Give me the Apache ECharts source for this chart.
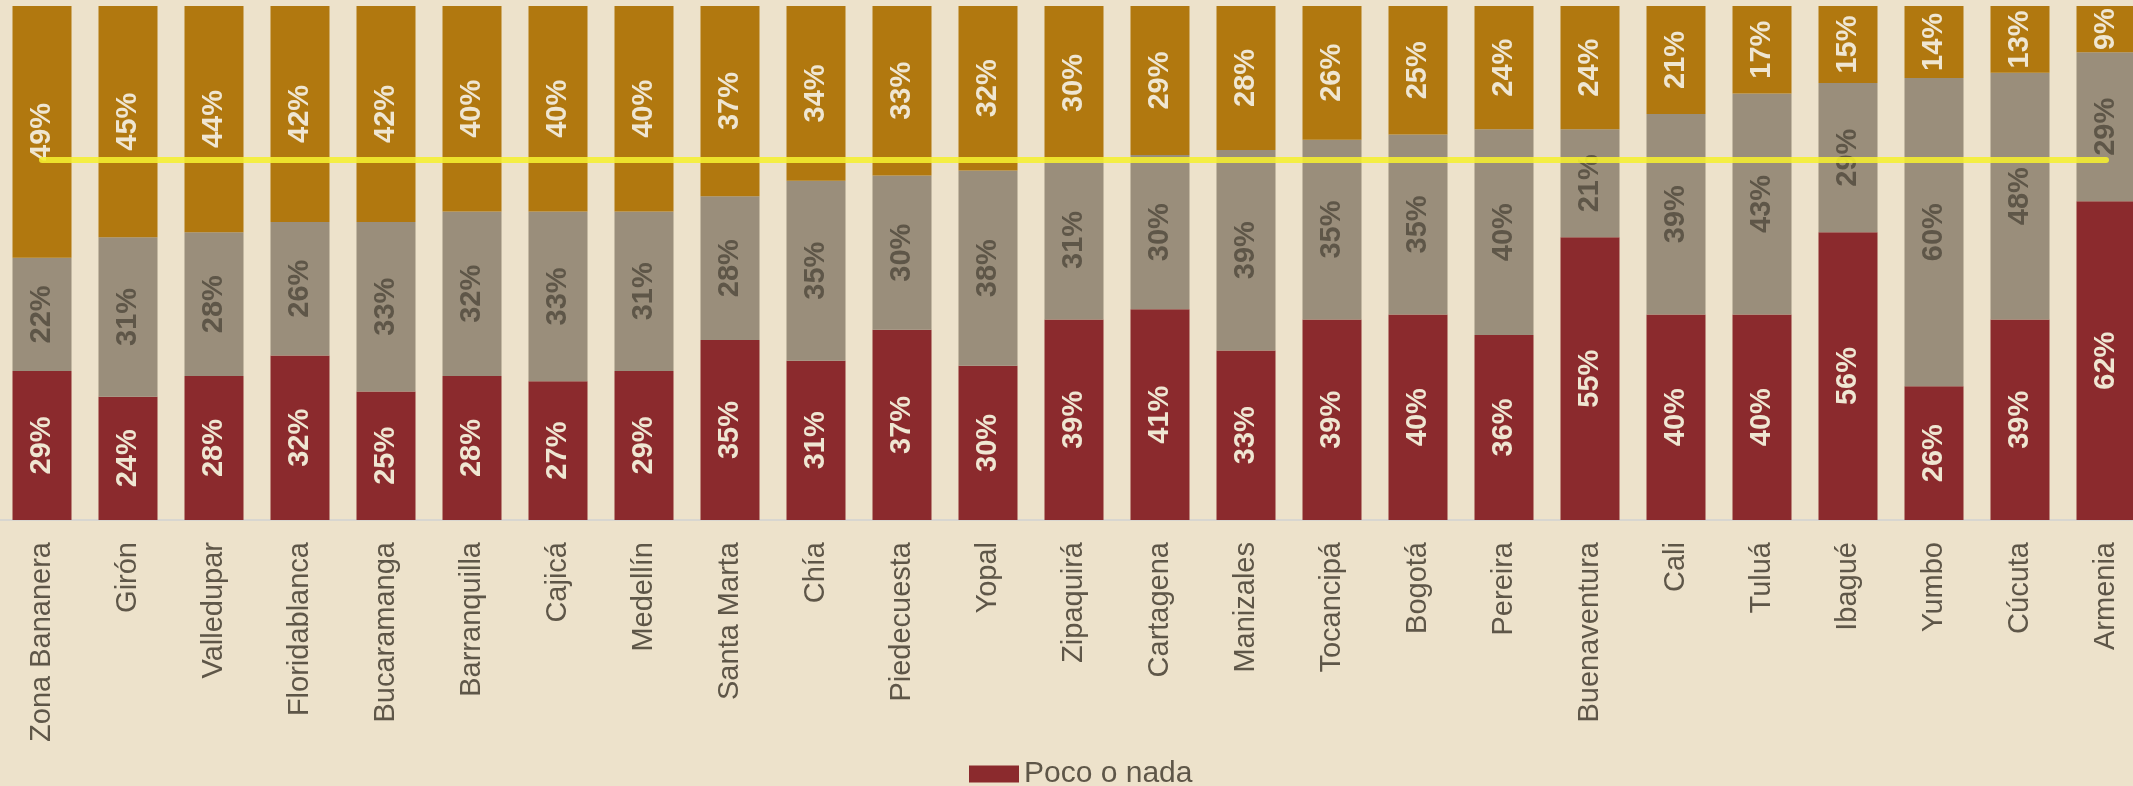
<!DOCTYPE html>
<html>
<head>
<meta charset="utf-8">
<script src="https://cdn.jsdelivr.net/npm/echarts@6/dist/echarts.min.js"></script>
<style>
html,body{margin:0;padding:0;background:#EDE2CB;overflow:hidden;width:2133px;height:786px;}
#chart{width:2150px;height:786px;margin-left:-1px;}
</style>
</head>
<body>
<div id="chart"></div>
<script>
const categories = ["Zona Bananera","Girón","Valledupar","Floridablanca","Bucaramanga","Barranquilla","Cajicá","Medellín","Santa Marta","Chía","Piedecuesta","Yopal","Zipaquirá","Cartagena","Manizales","Tocancipá","Bogotá","Pereira","Buenaventura","Cali","Tuluá","Ibagué","Yumbo","Cúcuta","Armenia"];
const pocoONada = [29,24,28,32,25,28,27,29,35,31,37,30,39,41,33,39,40,36,55,40,40,56,26,39,62];
const medio     = [22,31,28,26,33,32,33,31,28,35,30,38,31,30,39,35,35,40,21,39,43,29,60,48,29];
const mucho     = [49,45,44,42,42,40,40,40,37,34,33,32,30,29,28,26,25,24,24,21,17,15,14,13,9];
const referenceLevel = 70;

const chart = echarts.init(document.getElementById('chart'), null, {renderer:'canvas'});
const lightLabel = {show:true, position:'inside', rotate:90, formatter:'{c}%', color:'#EFE6D2', fontSize:29, fontWeight:'bold', fontFamily:'Liberation Sans, Arial, sans-serif'};
const darkLabel = Object.assign({}, lightLabel, {color:'#5E5648'});

chart.setOption({
  backgroundColor:'#EDE2CB',
  animation:false,
  grid:{left:0, right:0, top:6, bottom:266, containLabel:false},
  legend:{
    data:[{name:'Poco o nada', icon:'rect'}],
    left:965, top:754,
    itemWidth:50, itemHeight:17, itemGap:4,
    textStyle:{color:'#5E5648', fontSize:30, fontFamily:'Liberation Sans, Arial, sans-serif'}
  },
  xAxis:{
    type:'category', data:categories,
    axisTick:{show:false},
    axisLine:{show:true, lineStyle:{color:'#D8D6D0', width:2}},
    axisLabel:{interval:0, rotate:90, margin:22, color:'#5E5648', fontSize:29, fontFamily:'Liberation Sans, Arial, sans-serif'}
  },
  yAxis:{type:'value', min:0, max:100, show:false, splitLine:{show:false}},
  series:[
    {name:'Poco o nada', type:'bar', stack:'t', data:pocoONada, barWidth:59,
     itemStyle:{color:'#8B2A2D'}, label:lightLabel},
    {name:'Algo', type:'bar', stack:'t', data:medio, barWidth:59,
     itemStyle:{color:'#9A8E7B'}, label:darkLabel},
    {name:'Mucho', type:'bar', stack:'t', data:mucho, barWidth:59,
     itemStyle:{color:'#B1780F'}, label:lightLabel,
     markLine:{
       silent:true, symbol:['none','none'], z:10,
       label:{show:false},
       lineStyle:{color:'#F5EF30', width:6, type:'solid', opacity:0.88, cap:'round'},
       data:[[{coord:[categories[0], referenceLevel]},{coord:[categories[categories.length-1], referenceLevel]}]]
     }}
  ]
});
</script>
</body>
</html>
